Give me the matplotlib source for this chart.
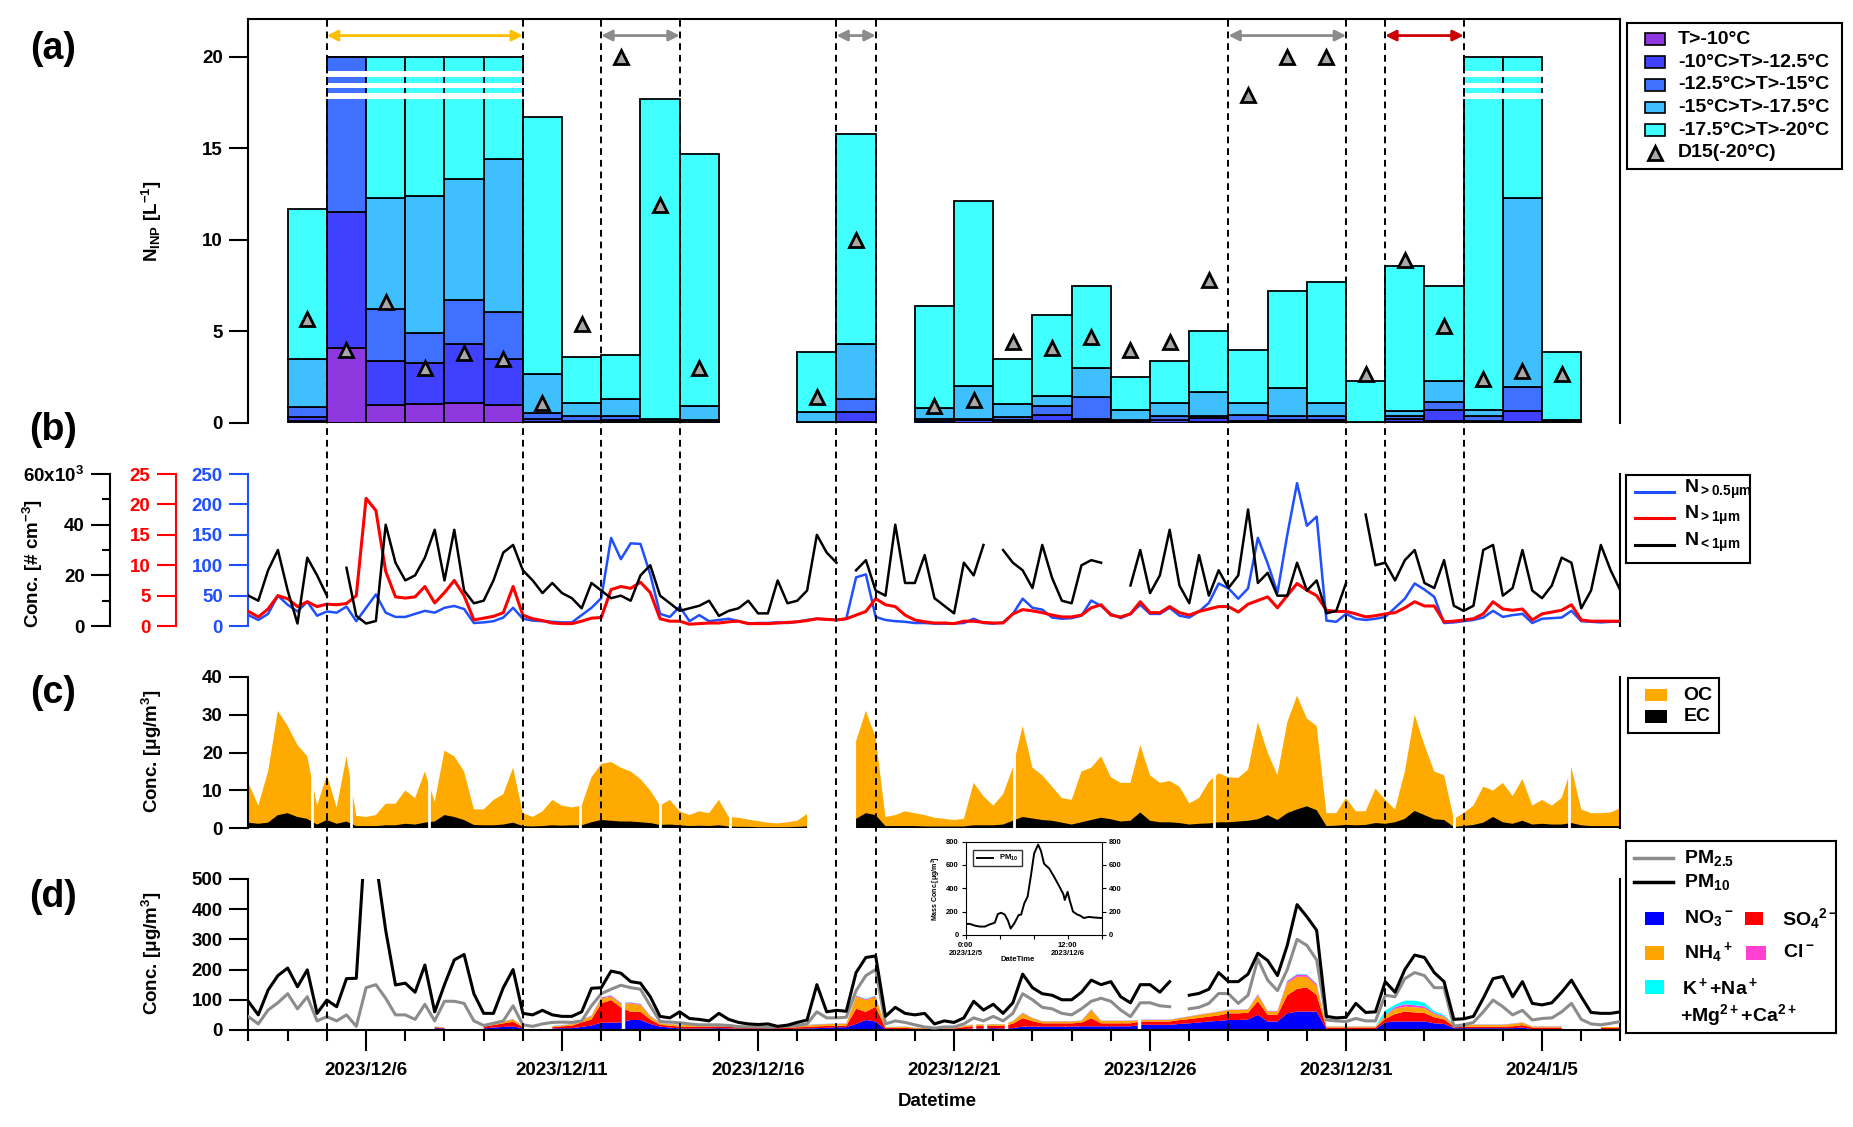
import numpy as np
import pandas as pd
import matplotlib
matplotlib.use("Agg")
import matplotlib.pyplot as plt
import matplotlib.dates as mdates
from matplotlib.patches import Rectangle

plt.rcParams['font.family'] = ['Liberation Sans', 'DejaVu Sans']
plt.rcParams['font.weight'] = 'bold'
plt.rcParams['axes.labelweight'] = 'bold'
plt.rcParams['mathtext.fontset'] = 'custom'
plt.rcParams['mathtext.rm'] = 'Liberation Sans:bold'
plt.rcParams['mathtext.it'] = 'Liberation Sans:bold'
plt.rcParams['mathtext.bf'] = 'Liberation Sans:bold'
plt.rcParams['mathtext.default'] = 'bf'

nan = np.nan

# ---------------- (a) daily INP samples (cumulative N_INP at each temperature)
bar_days = ['2023-12-04', '2023-12-05', '2023-12-06', '2023-12-07', '2023-12-08', '2023-12-09',
            '2023-12-10', '2023-12-11', '2023-12-12', '2023-12-13', '2023-12-14', '2023-12-17',
            '2023-12-18', '2023-12-20', '2023-12-21', '2023-12-22', '2023-12-23', '2023-12-24',
            '2023-12-25', '2023-12-26', '2023-12-27', '2023-12-28', '2023-12-29', '2023-12-30',
            '2023-12-31', '2024-01-01', '2024-01-02', '2024-01-03', '2024-01-04', '2024-01-05']
inp_m10 = [0.1, 4.1, 1.0, 1.05, 1.1, 1.0, 0.05, 0.02, 0.05, 0.0, 0.02, 0.0, 0.05, 0.02, 0.02,
           0.05, 0.1, 0.1, 0.02, 0.02, 0.05, 0.05, 0.05, 0.05, 0.0, 0.05, 0.1, 0.07, 0.07, 0.02]
inp_m125 = [0.3, 11.5, 3.4, 3.3, 4.3, 3.5, 0.2, 0.1, 0.15, 0.05, 0.05, 0.02, 0.6, 0.13, 0.15,
            0.15, 0.45, 0.2, 0.1, 0.15, 0.25, 0.13, 0.15, 0.18, 0.01, 0.2, 0.7, 0.1, 0.65, 0.07]
inp_m15 = [0.85, 20, 6.2, 4.9, 6.7, 6.05, 0.55, 0.4, 0.4, 0.1, 0.15, 0.05, 1.3, 0.22, 0.22,
           0.33, 0.9, 1.4, 0.18, 0.4, 0.36, 0.45, 0.4, 0.36, 0.02, 0.36, 1.15, 0.36, 1.95, 0.1]
inp_m175 = [3.5, 20, 12.3, 12.4, 13.3, 14.4, 2.7, 1.1, 1.3, 0.2, 0.9, 0.6, 4.3, 0.8, 2.0,
            1.05, 1.45, 3.0, 0.73, 1.1, 1.7, 1.1, 1.9, 1.1, 0.03, 0.65, 2.3, 0.7, 12.3, 0.18]
inp_m20 = [11.7, 20, 20, 20, 20, 20, 16.7, 3.6, 3.7, 17.7, 14.7, 3.9, 15.8, 6.4, 12.1,
           3.5, 5.9, 7.5, 2.5, 3.4, 5.0, 4.0, 7.2, 7.7, 2.3, 8.6, 7.5, 20, 20, 3.85]
d15 = [5.7, 4.0, 6.6, 3.0, 3.8, 3.5, 1.1, 5.4, 20.0, 11.9, 3.0, 1.4, 10.0, 0.9, 1.25,
       4.4, 4.1, 4.7, 4.0, 4.4, 7.8, 17.9, 20.0, 20.0, 2.7, 8.9, 5.3, 2.4, 2.85, 2.7]
inp_labels = ['T>-10°C', '-10°C>T>-12.5°C', '-12.5°C>T>-15°C', '-15°C>T>-17.5°C', '-17.5°C>T>-20°C']

event_starts = ['2023-12-05', '2023-12-12', '2023-12-18', '2023-12-28', '2024-01-01']
event_ends = ['2023-12-10', '2023-12-14', '2023-12-19', '2023-12-31', '2024-01-03']
dashed_days = ['2023-12-05', '2023-12-10', '2023-12-12', '2023-12-14', '2023-12-18',
               '2023-12-19', '2023-12-28', '2023-12-31', '2024-01-01', '2024-01-03']

# ---------------- 6-hourly series, 2023-12-03 00:00 ... 2024-01-07 00:00
n_gt05 = [18, 10, 20, 50, 35, 24, 40, 17, 24, 22,
          32, 8, 30, 52, 22, 15, 15, 20, 25, 22,
          30, 33, 28, 5, 6, 8, 14, 30, 12, 9,
          8, 7, 6, 6, 18, 30, 46, 145, 110, 136,
          135, 85, 20, 15, 32, 8, 18, 8, 10, 12,
          8, 4, 5, 5, 6, 5, 7, 10, 12, 11,
          10, 12, 80, 85, 15, 10, 8, 7, 5, 5,
          4, 4, 4, 5, 12, 5, 4, 6, 20, 45,
          30, 27, 14, 12, 13, 17, 42, 33, 20, 13,
          20, 35, 20, 20, 30, 17, 14, 24, 38, 70,
          62, 45, 62, 145, 103, 55, 150, 235, 165, 180,
          9, 7, 20, 12, 10, 12, 15, 30, 45, 70,
          60, 48, 5, 6, 8, 10, 14, 25, 15, 18,
          20, 5, 12, 13, 14, 25, 8, 7, 6, 7,
          7]
n_gt1 = [2.4, 1.5, 2.8, 5.0, 4.5, 3.2, 4.0, 3.2, 3.6, 3.5,
         3.7, 5.0, 21.0, 19.0, 9.0, 4.8, 4.6, 4.8, 6.5, 3.8,
         5.5, 7.5, 5.0, 1.0, 1.3, 1.6, 2.2, 6.5, 1.8, 1.2,
         0.9, 0.5, 0.4, 0.4, 0.8, 1.3, 1.4, 6.0, 6.5, 6.2,
         7.2, 5.5, 1.2, 0.8, 0.8, 0.3, 0.4, 0.5, 0.5, 0.7,
         0.8, 0.4, 0.4, 0.4, 0.5, 0.6, 0.7, 0.9, 1.2, 1.1,
         1.0, 1.2, 1.8, 2.4, 4.5, 3.5, 3.2, 1.8, 1.0, 0.7,
         0.5, 0.5, 0.4, 0.8, 0.8, 0.6, 0.5, 0.5, 2.0, 2.7,
         2.5, 2.2, 1.8, 1.5, 1.5, 1.8, 3.0, 3.5, 1.8, 1.5,
         2.0, 4.0, 2.2, 2.2, 3.2, 2.2, 1.8, 2.4, 2.8, 3.2,
         3.2, 2.3, 3.6, 4.2, 4.8, 3.0, 5.0, 7.0, 5.9, 5.0,
         2.6, 2.4, 2.4, 2.0, 1.5, 1.7, 2.0, 2.2, 3.0, 4.0,
         3.3, 3.3, 0.7, 0.8, 1.0, 1.2, 2.0, 4.0, 2.8, 2.6,
         2.8, 1.0, 2.0, 2.3, 2.6, 3.5, 1.0, 0.8, 0.8, 0.8,
         0.8]
n_lt1_k = [12, 10, 22, 30, 14, 1, 27, 20, 12, nan,
           23, 4, 1, 2, 40, 25, 18, 20, 27, 38,
           18, 38, 14, 9, 10, 18, 29, 32, 22, 18,
           13, 17, 13, 11, 7, 17, 14, 11, 12, 10,
           20, 24, 12, 9, 6, 7, 8, 10, 4, 6,
           7, 10, 5, 5, 18, 9, 10, 14, 36, 29,
           25, nan, 22, 26, 14, 12, 40, 17, 17, 28,
           11, 8, 5, 25, 20, 32, nan, 30, 25, 22,
           15, 32, 19, 10, 9, 24, 26, 25, nan, nan,
           16, 30, 13, 20, 38, 16, 9, 28, 12, 22,
           15, 20, 46, 17, 21, 12, 12, 25, 14, 18,
           5, 6, 17, nan, 44, 24, 25, 18, 26, 30,
           17, 15, 26, 8, 6, 8, 30, 32, 12, 15,
           30, 14, 11, 16, 27, 25, 7, 14, 32, 22,
           14]
oc = [12, 6, 15, 31, 27, 22, 19, 6, 14, 5.5,
      19, 3.3, 3, 3.5, 6.5, 6.5, 10, 8, 15, 7,
      20.5, 19, 15, 5, 5, 7.5, 9, 16, 4, 3,
      4.5, 7.5, 6, 5.5, 6, 13.5, 17, 17.5, 16, 15,
      13, 10, 6, 7.5, 4.5, 3.5, 4.5, 4, 7.5, 3,
      2.8, 2.3, 1.9, 1.5, 1.3, 1.6, 2, 3.8, nan, nan,
      nan, nan, 23, 31, 24, 3, 3.5, 4.5, 4, 3.5,
      2.8, 2.5, 2.2, 2.5, 12, 8.5, 6, 9, 16, 27,
      16, 14, 11, 8, 7.5, 15, 16, 19, 13.5, 12,
      12, 22, 14, 12, 12.5, 11, 6.6, 8, 12.3, 14.5,
      13.5, 13.3, 15.5, 28, 20, 14, 28, 35, 29, 27,
      4, 4, 8, 4.5, 4.5, 10.5, 7.5, 5, 15, 30,
      22, 15, 14, 2.5, 4, 6, 11, 10, 12, 8.5,
      13, 6, 7.5, 6, 8, 16, 5, 4, 4, 4.2,
      5.3]
ec = [1.5, 1.2, 1.5, 3.5, 4, 3, 2.5, 1.0, 2.2, 1.2,
      1.8, 0.6, 0.6, 0.6, 0.8, 0.8, 1.2, 1.0, 1.5, 1.8,
      3.5, 3.0, 2.2, 0.9, 0.8, 0.8, 1.0, 1.5, 0.6, 0.5,
      0.6, 0.8, 0.7, 0.8, 0.8, 1.6, 2.2, 2.0, 1.8, 1.8,
      1.6, 1.4, 0.9, 1.0, 0.8, 0.6, 0.7, 0.6, 0.8, 0.5,
      0.4, 0.4, 0.3, 0.3, 0.3, 0.3, 0.4, 0.5, nan, nan,
      nan, nan, 2.5, 4.0, 3.5, 0.6, 0.6, 0.6, 0.6, 0.5,
      0.5, 0.5, 0.5, 0.5, 0.8, 0.8, 0.8, 1.0, 2.0, 3.0,
      2.6, 2.2, 2.0, 1.5, 1.0, 1.6, 2.2, 2.8, 2.4, 1.8,
      2.0, 4.2, 2.0, 1.6, 1.6, 1.4, 1.0, 1.2, 1.3, 1.6,
      1.6, 1.8, 2.0, 2.4, 3.5, 2.2, 4.0, 5.0, 5.8, 4.8,
      0.6, 0.7, 0.9, 0.8, 0.9, 1.4, 1.2, 1.6, 2.5, 4.6,
      3.5, 2.4, 2.2, 0.4, 0.6, 0.9, 1.5, 3.0, 1.6, 1.2,
      2.0, 1.0, 1.2, 1.0, 1.0, 1.4, 0.8, 0.6, 0.6, 0.6,
      0.6]
pm10 = [94, 50, 132, 180, 205, 143, 199, 55, 99, 77,
        170, 171, 680, 560, 330, 149, 155, 125, 215, 60,
        150, 232, 250, 120, 55, 55, 140, 200, 55, 50,
        65, 50, 45, 45, 60, 138, 140, 195, 188, 160,
        155, 110, 45, 40, 60, 38, 35, 30, 55, 35,
        25, 20, 18, 20, 12, 16, 25, 33, 150, 60,
        65, 62, 190, 240, 245, 45, 75, 55, 50, 55,
        20, 30, 25, 40, 95, 66, 85, 55, 90, 185,
        140, 120, 115, 100, 100, 125, 165, 150, 160, 110,
        90, 150, 150, 125, 160, nan, 115, 121, 135, 190,
        160, 160, 185, 254, 230, 180, 280, 415, 375, 330,
        45, 40, 42, 88, 58, 60, 160, 125, 200, 248,
        240, 190, 160, 35, 37, 45, 105, 170, 177, 110,
        160, 88, 83, 90, 125, 165, 110, 58, 55, 55,
        60]
pm25 = [44, 20, 66, 90, 120, 70, 110, 30, 44, 30,
        50, 12, 140, 150, 105, 50, 50, 35, 85, 30,
        95, 95, 88, 30, 15, 22, 30, 80, 17, 12,
        20, 25, 26, 25, 30, 80, 120, 135, 148, 140,
        135, 80, 28, 26, 24, 20, 17, 17, 17, 15,
        11, 10, 10, 9, 10, 12, 15, 20, 60, 40,
        40, 42, 130, 180, 200, 20, 30, 25, 17, 10,
        6, 10, 10, 20, 40, 30, 45, 30, 55, 120,
        100, 75, 70, 55, 50, 70, 95, 105, 95, 66,
        44, 90, 90, 80, 77, nan, 70, 75, 88, 121,
        120, 88, 115, 235, 165, 130, 200, 300, 280, 232,
        33, 30, 28, 38, 30, 30, 115, 110, 170, 190,
        180, 140, 140, 12, 17, 25, 60, 99, 77, 50,
        65, 33, 38, 40, 60, 88, 35, 20, 17, 22,
        28]
no3 = [nan, nan, nan, nan, nan, nan, nan, nan, nan, nan,
       nan, nan, nan, nan, nan, nan, nan, nan, nan, 6,
       5, nan, nan, nan, 5, 8, 10, 12, 5, nan,
       nan, 5, 6, 6, 10, 15, 24, 24, 25, 33,
       33, 20, 11, 8, 5, 5, 5, 5, 6, 5,
       4, 3, 3, 3, 3, 3, 4, 5, 6, 7,
       9, 9, 20, 33, 28, 3, 3, 3, 2, 2,
       2, 2, 2, 3, 5, 5, 6, 5, 6, 11,
       11, 11, 11, 11, 11, 12, 12, 12, 12, 12,
       12, 17, 17, 17, 17, 20, 22, 25, 28, 30,
       33, 33, 35, 50, 28, 28, 55, 61, 61, 61,
       3, 3, 3, 3, 3, 3, 25, 28, 28, 28,
       28, 22, 20, 6, 6, 6, 6, 6, 6, 6,
       8, 3, 3, 3, 3, nan, nan, nan, 3, 3,
       3]
so4 = [nan, nan, nan, nan, nan, nan, nan, nan, nan, nan,
       nan, nan, nan, nan, nan, nan, nan, nan, nan, 3,
       2, nan, nan, nan, 6, 8, 12, 15, 5, nan,
       nan, 4, 6, 8, 15, 20, 64, 75, 50, 27,
       27, 15, 6, 6, 6, 6, 6, 6, 6, 6,
       4, 4, 4, 4, 4, 4, 5, 5, 6, 6,
       5, 5, 50, 27, 49, 3, 4, 4, 3, 3,
       3, 3, 3, 6, 8, 8, 8, 8, 15, 28,
       18, 11, 11, 11, 11, 12, 27, 10, 10, 10,
       10, 11, 11, 11, 11, 13, 14, 15, 16, 18,
       22, 22, 22, 45, 22, 22, 60, 75, 80, 55,
       5, 5, 5, 5, 5, 5, 12, 25, 33, 30,
       28, 20, 15, 5, 5, 5, 5, 5, 5, 6,
       8, 5, 5, 5, 5, nan, nan, nan, 4, 4,
       4]
nh4 = [nan, nan, nan, nan, nan, nan, nan, nan, nan, nan,
       nan, nan, nan, nan, nan, nan, nan, nan, nan, 2,
       1, nan, nan, nan, 2, 3, 5, 8, 2, nan,
       nan, 3, 3, 5, 8, 10, 17, 11, 12, 28,
       23, 10, 5, 5, 6, 6, 6, 6, 6, 6,
       4, 4, 4, 4, 4, 4, 5, 5, 6, 6,
       6, 6, 40, 39, 33, 3, 3, 4, 2, 2,
       2, 2, 2, 4, 5, 5, 5, 5, 8, 16,
       10, 6, 6, 6, 6, 6, 27, 8, 8, 8,
       8, 5, 5, 5, 5, 6, 8, 10, 11, 12,
       11, 11, 11, 20, 11, 11, 40, 40, 35, 30,
       3, 3, 3, 3, 3, 3, 10, 17, 16, 17,
       16, 10, 8, 6, 6, 6, 6, 6, 6, 8,
       8, 3, 3, 3, 3, nan, nan, nan, 3, 3,
       3]
cl = [nan, nan, nan, nan, nan, nan, nan, nan, nan, nan,
      nan, nan, nan, nan, nan, nan, nan, nan, nan, 0.5,
      0.5, nan, nan, nan, 1, 1, 1, 1, 1, nan,
      nan, 1, 1, 1, 1, 2, 3, 4, 3, 3,
      3, 2, 1, 1, 1, 1, 1, 1, 1, 1,
      1, 1, 1, 1, 1, 1, 1, 1, 1, 1,
      1, 1, 3, 3, 3, 0.5, 0.5, 0.5, 0.5, 0.5,
      0.5, 0.5, 0.5, 0.5, 0.5, 0.5, 0.5, 0.5, 0.5, 2,
      1, 1, 1, 1, 1, 1, 2, 1, 1, 1,
      1, 1, 1, 1, 1, 1, 1, 1, 1, 1,
      1, 1, 1, 3, 2, 2, 6, 8, 7, 6,
      0.5, 0.5, 0.5, 0.5, 0.5, 0.5, 2, 6, 8, 7,
      6, 4, 3, 1, 1, 1, 1, 1, 1, 1,
      1, 1, 1, 1, 1, nan, nan, nan, 0.5, 0.5,
      0.5]
k_na_mg_ca = [nan, nan, nan, nan, nan, nan, nan, nan, nan, nan,
              nan, nan, nan, nan, nan, nan, nan, nan, nan, 0.5,
              0.5, nan, nan, nan, 0.5, 0.5, 0.5, 0.5, 0.5, nan,
              nan, 0.5, 0.5, 0.5, 0.5, 1, 1, 1, 1, 1,
              1, 1, 0.5, 0.5, 0.5, 0.5, 0.5, 0.5, 0.5, 0.5,
              0.5, 0.5, 0.5, 0.5, 0.5, 0.5, 0.5, 0.5, 0.5, 0.5,
              0.5, 0.5, 1.5, 1.5, 1.5, 0.5, 0.5, 0.5, 0.5, 0.5,
              0.5, 0.5, 0.5, 0.5, 0.5, 0.5, 0.5, 0.5, 0.5, 1,
              0.5, 0.5, 0.5, 0.5, 0.5, 0.5, 1, 0.5, 0.5, 0.5,
              0.5, 0.5, 0.5, 0.5, 0.5, 0.5, 0.5, 0.5, 0.5, 0.5,
              0.5, 0.5, 0.5, 1.5, 0.5, 0.5, 2, 2, 2, 2,
              0.5, 0.5, 0.5, 0.5, 0.5, 0.5, 15, 8, 12, 15,
              12, 6, 4, 0.5, 0.5, 0.5, 0.5, 0.5, 0.5, 0.5,
              0.5, 0.5, 0.5, 0.5, 0.5, nan, nan, nan, 0.5, 0.5,
              0.5]

# short missing intervals in the OC/EC and ion records
oc_gaps = ['2023-12-04 15:00', '2023-12-05 15:00', '2023-12-07 14:30', '2023-12-11 11:00',
           '2023-12-13 12:00', '2023-12-15 07:00', '2023-12-22 13:00', '2023-12-27 15:00',
           '2024-01-02 18:00', '2024-01-05 16:30']
ion_gaps = ['2023-12-12 13:00', '2023-12-21 12:30', '2023-12-21 19:00', '2023-12-22 08:00',
            '2023-12-25 17:00']

# inset: PM10 during the 12/5-12/6 dust peak
inset_hours = [0, 1.5, 3.3, 5, 6.8, 8.5, 10.3, 11.4, 12.6, 13.8, 15, 15.9, 17.2, 18.7, 19.6, 20.7,
               21.9, 23, 24.2, 25.6, 26.6, 27.7, 29.5, 31.2, 33, 34.5, 35, 36, 36.7, 37.9, 39.4,
               40.5, 41.7, 43.5, 45.2, 48]
inset_pm10 = [95, 95, 80, 72, 72, 90, 105, 180, 190, 175, 120, 55, 100, 170, 175, 270,
              330, 500, 700, 775, 720, 610, 570, 500, 420, 350, 300, 370, 300, 200, 175,
              165, 145, 155, 150, 145]

xtick_days = ['2023-12-06', '2023-12-11', '2023-12-16', '2023-12-21', '2023-12-26', '2023-12-31', '2024-01-05']
xtick_labels = ['2023/12/6', '2023/12/11', '2023/12/16', '2023/12/21', '2023/12/26', '2023/12/31', '2024/1/5']


def dnum(x):
    return mdates.date2num(pd.to_datetime(x).to_pydatetime())


t = dnum(pd.date_range('2023-12-03', periods=len(pm10), freq='6h'))
xlo, xhi = dnum('2023-12-03'), dnum('2024-01-07')

BLUE = '#1F4FFF'
RED = '#FF0000'
ORANGE = '#FFAA00'
inp_colors = ['#9038E0', '#4040FF', '#4070FF', '#40BFFF', '#40FFFF']
arrow_colors = ['#FFBF00', '#8C8C8C', '#8C8C8C', '#8C8C8C', '#CC0000']
ion_colors = ['#0000FF', '#FF0000', '#FFA500', '#FF40D0', '#00FFFF']
FS = 13.5
LFS = 14
TICK = dict(direction='out', length=13.5, width=1.5, labelsize=FS, pad=5)

fig = plt.figure(figsize=(18.53, 11.27), dpi=100)
L, W = 0.1341, 0.7404
ax_a = fig.add_axes([L, 0.6247, W, 0.3582])
ax_b = fig.add_axes([L, 0.4445, W, 0.1349])
ax_c = fig.add_axes([L, 0.2650, W, 0.1345])
ax_d = fig.add_axes([L, 0.0861, W, 0.1340])

for ax in (ax_a, ax_b, ax_c, ax_d):
    ax.set_xlim(xlo, xhi)
    for s in ax.spines.values():
        s.set_linewidth(1.5)
    ax.tick_params(axis='y', **TICK)
    if ax is not ax_d:
        ax.tick_params(axis='x', bottom=False, labelbottom=False)
        ax.spines['bottom'].set_visible(False)
    if ax is not ax_a:
        ax.spines['top'].set_visible(False)

# ---------------- (a)
bx = dnum(bar_days)
prev = np.zeros(len(bx))
for lev, col in zip([inp_m10, inp_m125, inp_m15, inp_m175, inp_m20], inp_colors):
    lev = np.array(lev, dtype=float)
    ax_a.bar(bx, lev - prev, bottom=prev, width=1, align='edge', color=col,
             edgecolor='black', linewidth=1.3, zorder=2)
    prev = lev
broken = np.array(inp_m20) >= 20
for lo, hi in [(17.67, 18.0), (18.29, 18.58), (18.87, 19.24)]:
    ax_a.bar(bx[broken] - 0.02, hi - lo, bottom=lo, width=1.04, align='edge',
             color='white', linewidth=0, zorder=3)
ax_a.plot(bx + 0.5, d15, ls='none', marker='^', ms=10, mfc='#A8A8A8', mec='black', mew=2, zorder=4)
for s, e, c in zip(event_starts, event_ends, arrow_colors):
    ax_a.annotate('', xy=(dnum(e), 21.16), xytext=(dnum(s), 21.16),
                  arrowprops=dict(arrowstyle='<|-|>', color=c, lw=2, shrinkA=0, shrinkB=0,
                                  mutation_scale=16))
ax_a.set_ylim(0, 22.05)
ax_a.set_yticks([0, 5, 10, 15, 20])

# ---------------- (b)
ax_b.plot(t, n_gt05, color=BLUE, lw=1.8)
ax_b.set_ylim(0, 250)
ax_b.set_yticks([0, 50, 100, 150, 200, 250])
ax_b.tick_params(axis='y', colors=BLUE)
ax_b.spines['left'].set_color(BLUE)
ax_r = ax_b.twinx()
ax_r.plot(t, n_gt1, color=RED, lw=2.2)
ax_r.set_ylim(0, 25)
ax_r.set_yticks([0, 5, 10, 15, 20, 25])
ax_k = ax_b.twinx()
ax_k.plot(t, n_lt1_k, color='black', lw=1.8)
ax_k.set_ylim(0, 60)
ax_k.set_yticks([0, 20, 40, 60])
ax_k.set_yticklabels(['0', '20', '40', '60x10$^{3}$'])
ax_k.set_yticks([10, 30, 50], minor=True)
for tw, off, col in ((ax_r, -0.0528, RED), (ax_k, -0.1007, 'black')):
    tw.set_xlim(xlo, xhi)
    for name, s in tw.spines.items():
        s.set_visible(name == 'left')
        s.set_linewidth(1.5)
    tw.spines['left'].set_position(('axes', off))
    tw.spines['left'].set_color(col)
    tw.yaxis.set_ticks_position('left')
    tw.yaxis.set_label_position('left')
    tw.tick_params(axis='y', colors=col, **TICK)
    tw.tick_params(axis='x', bottom=False, labelbottom=False)
ax_k.tick_params(axis='y', which='minor', direction='out', length=6, width=1.5, colors='black')

# ---------------- (c)
ax_c.fill_between(t, 0, oc, color=ORANGE, lw=0, zorder=1)
ax_c.fill_between(t, 0, ec, color='black', lw=0, zorder=1.5)
for g in oc_gaps:
    ax_c.axvline(dnum(g), color='white', lw=2, zorder=2)
ax_c.set_ylim(0, 40)
ax_c.set_yticks([0, 10, 20, 30, 40])

# ---------------- (d)
base = np.zeros(len(t))
for arr, col in zip([no3, so4, nh4, cl, k_na_mg_ca], ion_colors):
    top = base + np.array(arr, dtype=float)
    ax_d.fill_between(t, base, top, color=col, lw=0, zorder=1)
    base = top
for g in ion_gaps:
    ax_d.axvline(dnum(g), color='white', lw=2.5, zorder=2)
ax_d.plot(t, pm25, color='#8C8C8C', lw=2.2, zorder=3)
ax_d.plot(t, pm10, color='black', lw=2.2, zorder=4)
ax_d.set_ylim(0, 500)
ax_d.set_yticks([0, 100, 200, 300, 400, 500])
ax_d.set_xticks(dnum(xtick_days))
ax_d.set_xticklabels(xtick_labels)
ax_d.set_xticks(dnum(pd.date_range('2023-12-03', '2024-01-07')), minor=True)
ax_d.tick_params(axis='x', which='major', direction='out', length=15, width=1.5, labelsize=FS, pad=8)
ax_d.tick_params(axis='x', which='minor', direction='out', length=7.7, width=1.5)

# inset
ax_in = fig.add_axes([0.5211, 0.1704, 0.0734, 0.0828])
ax_in.plot(dnum('2023-12-05') + np.array(inset_hours) / 24.0, inset_pm10, color='black', lw=1.4,
           label='PM$_{10}$')
ax_in.set_xlim(dnum('2023-12-05'), dnum('2023-12-07'))
ax_in.set_ylim(0, 800)
ax_in.set_yticks([0, 200, 400, 600, 800])
ax_in.set_xticks(dnum(['2023-12-05 00:00', '2023-12-05 12:00', '2023-12-06 00:00',
                       '2023-12-06 12:00', '2023-12-07 00:00']))
ax_in.set_xticklabels(['0:00\n2023/12/5', '', '', '12:00\n2023/12/6', ''])
ax_in.tick_params(axis='both', direction='out', length=3, width=0.8, labelsize=5.5, pad=2)
ax_in.tick_params(axis='y', right=True, labelright=True)
for s in ax_in.spines.values():
    s.set_linewidth(0.8)
ax_in.set_ylabel('Mass Conc.[μg/m$^3$]', fontsize=5, labelpad=2)
ax_in.legend(loc='upper left', fontsize=5.5, frameon=True, fancybox=False, edgecolor='black',
             handlelength=2.2, borderpad=0.4, bbox_to_anchor=(0.03, 0.95))
fig.text(0.5494, 0.149, 'DateTime', fontsize=5.5, ha='center', va='center')

# ---------------- dashed event lines across all panels
ov = fig.add_axes([L, 0.0861, W, 0.9829 - 0.0861])
ov.set_xlim(xlo, xhi)
ov.set_ylim(0, 1)
ov.axis('off')
ov.patch.set_visible(False)
for d in dashed_days:
    ov.axvline(dnum(d), color='black', lw=1.4, ls=(0, (3.5, 2.5)))

# ---------------- labels
for lab, y in (('(a)', 0.9565), ('(b)', 0.6185), ('(c)', 0.385), ('(d)', 0.204)):
    fig.text(0.0286, y, lab, fontsize=27, ha='center', va='center')
fig.text(0.0818, 0.804, 'N$_{INP}$ [L$^{-1}$]', rotation=90, fontsize=FS, ha='center', va='center')
fig.text(0.0177, 0.5004, 'Conc. [# cm$^{-3}$]', rotation=90, fontsize=FS, ha='center', va='center')
fig.text(0.0818, 0.333, 'Conc. [μg/m$^3$]', rotation=90, fontsize=FS, ha='center', va='center')
fig.text(0.0818, 0.1544, 'Conc. [μg/m$^3$]', rotation=90, fontsize=FS, ha='center', va='center')
fig.text(0.506, 0.023, 'Datetime', fontsize=FS, ha='center', va='center')


# ---------------- legends drawn in their own boxes
def legend_box(rect):
    lax = fig.add_axes(rect)
    lax.set_xlim(0, 1)
    lax.set_ylim(0, 1)
    lax.set_xticks([])
    lax.set_yticks([])
    for s in lax.spines.values():
        s.set_linewidth(1.5)
    return lax


def swatch(lax, x0, x1, y, h, color, edge=True):
    lax.add_patch(Rectangle((x0, y - h / 2), x1 - x0, h, facecolor=color,
                            edgecolor='black' if edge else color, lw=1.2 if edge else 0))


la = legend_box([0.878, 0.85, 0.116, 0.1298])
rows_a = [0.887, 0.731, 0.576, 0.421, 0.266, 0.111]
for y, col, lab in zip(rows_a, inp_colors, inp_labels):
    swatch(la, 0.086, 0.177, y, 0.08, col)
    la.text(0.237, y, lab, fontsize=LFS, va='center', ha='left')
la.plot([0.132], [rows_a[5]], marker='^', ms=10, mfc='#A8A8A8', mec='black', mew=2)
la.text(0.237, rows_a[5], 'D15(-20°C)', fontsize=LFS, va='center', ha='left')

lb = legend_box([0.8775, 0.5004, 0.0669, 0.0781])
for y, col, lab in zip([0.81, 0.51, 0.21], [BLUE, RED, 'black'],
                       ['N$_{{>}0.5μm}$', 'N$_{{>}1μm}$', 'N$_{{<}1μm}$']):
    lb.plot([0.074, 0.391], [y, y], color=col, lw=2.2)
    lb.text(0.47, y + 0.03, lab, fontsize=LFS, va='center', ha='left')

lc = legend_box([0.8786, 0.3496, 0.0491, 0.0488])
for y, col, lab in zip([0.69, 0.30], [ORANGE, 'black'], ['OC', 'EC']):
    swatch(lc, 0.19, 0.43, y, 0.22, col, edge=False)
    lc.text(0.61, y, lab, fontsize=LFS, va='center', ha='left')

ld = legend_box([0.8775, 0.0834, 0.1133, 0.1704])
ld.plot([0.04, 0.226], [0.91, 0.91], color='#8C8C8C', lw=2.5)
ld.text(0.274, 0.91, 'PM$_{2.5}$', fontsize=LFS, va='center', ha='left')
ld.plot([0.04, 0.226], [0.784, 0.784], color='black', lw=2.5)
ld.text(0.274, 0.784, 'PM$_{10}$', fontsize=LFS, va='center', ha='left')
swatch(ld, 0.089, 0.182, 0.597, 0.07, ion_colors[0], edge=False)
ld.text(0.274, 0.597, 'NO$_3$$^-$', fontsize=LFS, va='center', ha='left')
swatch(ld, 0.565, 0.653, 0.597, 0.07, ion_colors[1], edge=False)
ld.text(0.742, 0.597, 'SO$_4$$^{2-}$', fontsize=LFS, va='center', ha='left')
swatch(ld, 0.089, 0.182, 0.417, 0.07, ion_colors[2], edge=False)
ld.text(0.274, 0.417, 'NH$_4$$^+$', fontsize=LFS, va='center', ha='left')
swatch(ld, 0.573, 0.666, 0.417, 0.07, ion_colors[3], edge=False)
ld.text(0.75, 0.417, 'Cl$^-$', fontsize=LFS, va='center', ha='left')
swatch(ld, 0.089, 0.182, 0.24, 0.07, ion_colors[4], edge=False)
ld.text(0.266, 0.24, 'K$^+$+Na$^+$', fontsize=LFS, va='center', ha='left')
ld.text(0.258, 0.092, '+Mg$^{2+}$+Ca$^{2+}$', fontsize=LFS, va='center', ha='left')

fig.savefig('out.png', dpi=100)
